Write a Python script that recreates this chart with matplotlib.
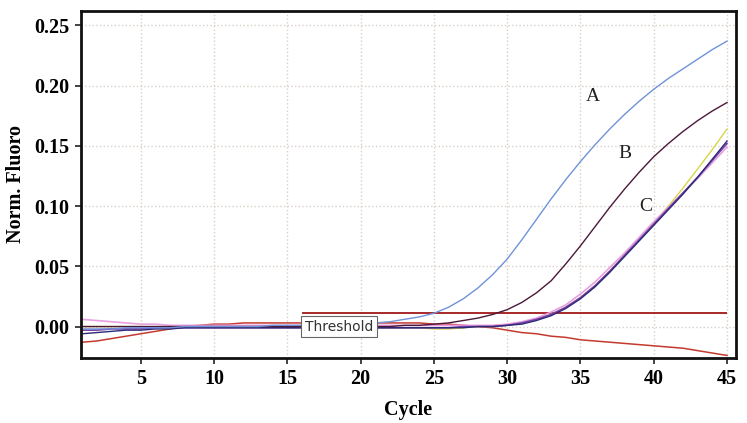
import numpy as np
import matplotlib.pyplot as plt

cycles = np.arange(1, 46)

# sample A (blue)
curve_a = [-0.002, -0.002, -0.002, -0.001, -0.001, -0.001, -0.001, 0.000, 0.000, 0.000,
           0.000, 0.000, 0.000, 0.001, 0.001, 0.001, 0.001, 0.001, 0.002, 0.002,
           0.003, 0.004, 0.006, 0.008, 0.011, 0.016, 0.023, 0.032, 0.043, 0.056,
           0.072, 0.089, 0.106, 0.122, 0.137, 0.151, 0.164, 0.176, 0.187, 0.197,
           0.206, 0.214, 0.222, 0.230, 0.237]
# sample B (dark maroon)
curve_b = [0.000, 0.000, 0.000, 0.000, 0.000, 0.000, 0.000, 0.000, 0.000, 0.000,
           0.000, 0.000, 0.000, 0.000, 0.000, 0.000, 0.000, 0.000, 0.000, 0.000,
           0.000, 0.000, 0.001, 0.001, 0.002, 0.003, 0.005, 0.007, 0.010, 0.014,
           0.020, 0.028, 0.038, 0.052, 0.067, 0.083, 0.099, 0.114, 0.128, 0.141,
           0.152, 0.162, 0.171, 0.179, 0.186]
# sample C replicates
curve_c1 = [-0.003, -0.003, -0.002, -0.002, -0.002, -0.001, -0.001, -0.001, -0.001, -0.001,
            -0.001, -0.001, -0.001, -0.001, -0.001, -0.001, -0.001, -0.001, -0.001, -0.001,
            -0.001, -0.001, -0.001, -0.001, -0.001, -0.001, 0.000, 0.000, 0.000, 0.001,
            0.003, 0.006, 0.010, 0.016, 0.024, 0.034, 0.046, 0.059, 0.072, 0.085,
            0.098, 0.111, 0.124, 0.138, 0.152]
curve_c2 = [-0.006, -0.005, -0.004, -0.003, -0.003, -0.002, -0.002, -0.001, -0.001, -0.001,
            -0.001, -0.001, -0.001, -0.001, -0.001, -0.001, -0.001, -0.001, -0.001, -0.001,
            -0.001, -0.001, -0.001, -0.001, -0.001, -0.001, -0.001, 0.000, 0.000, 0.001,
            0.002, 0.005, 0.009, 0.015, 0.023, 0.033, 0.045, 0.058, 0.071, 0.084,
            0.097, 0.110, 0.124, 0.139, 0.154]
curve_c_pink = [0.006, 0.005, 0.004, 0.003, 0.002, 0.002, 0.001, 0.001, 0.001, 0.001,
                0.001, 0.001, 0.001, 0.001, 0.001, 0.001, 0.001, 0.001, 0.001, 0.001,
                0.001, 0.001, 0.001, 0.001, 0.001, 0.001, 0.001, 0.001, 0.001, 0.002,
                0.004, 0.007, 0.012, 0.018, 0.027, 0.037, 0.049, 0.061, 0.074, 0.087,
                0.099, 0.111, 0.123, 0.136, 0.149]
curve_c_yellow = [0.000, 0.000, 0.000, 0.000, 0.000, 0.000, 0.000, 0.000, 0.000, 0.000,
                  0.000, 0.000, 0.000, 0.000, 0.000, 0.000, 0.000, 0.000, 0.000, 0.000,
                  -0.001, -0.001, -0.001, -0.001, -0.002, -0.002, -0.001, 0.000, 0.000, 0.001,
                  0.003, 0.006, 0.010, 0.016, 0.024, 0.034, 0.046, 0.059, 0.072, 0.086,
                  0.100, 0.115, 0.131, 0.147, 0.164]
# negative control drifting down
curve_neg = [-0.013, -0.012, -0.010, -0.008, -0.006, -0.004, -0.002, 0.000, 0.001, 0.002,
             0.002, 0.003, 0.003, 0.003, 0.003, 0.003, 0.003, 0.003, 0.003, 0.003,
             0.003, 0.003, 0.003, 0.003, 0.002, 0.002, 0.001, 0.000, -0.001, -0.003,
             -0.005, -0.006, -0.008, -0.009, -0.011, -0.012, -0.013, -0.014, -0.015, -0.016,
             -0.017, -0.018, -0.020, -0.022, -0.024]

threshold = 0.011
labels = ['A', 'B', 'C']
label_pos = [(35.4, 0.187), (37.6, 0.140), (39.0, 0.096)]

fig = plt.figure(figsize=(7.47, 4.23), dpi=100)
ax = fig.add_axes([0.108, 0.154, 0.877, 0.820])

ax.plot(cycles, curve_neg, color='#c43a2e', lw=1.1)
ax.hlines(threshold, 16, 45, color='#a01818', lw=1.3)
ax.plot(cycles, curve_c_yellow, color='#d6d64a', lw=1.0)
ax.plot(cycles, curve_c_pink, color='#e8a0e0', lw=1.2)
ax.plot(cycles, curve_c1, color='#7a3fa8', lw=1.2)
ax.plot(cycles, curve_c2, color='#2a2a78', lw=1.0)
ax.plot(cycles, curve_b, color='#4a1838', lw=1.0)
ax.plot(cycles, curve_a, color='#6f93d8', lw=1.0)

for lab, (x, y) in zip(labels, label_pos):
    ax.text(x, y, lab, fontsize=14, family='Liberation Serif', color='#222222')

ax.text(16.2, 0.000, 'Threshold', fontsize=10, family='DejaVu Sans', color='#333333',
        va='center', ha='left',
        bbox=dict(boxstyle='square,pad=0.28', fc='white', ec='#666666', lw=0.8))

ax.set_xlim(0.9, 45.6)
ax.set_ylim(-0.026, 0.262)
ax.set_xticks([5, 10, 15, 20, 25, 30, 35, 40, 45])
ax.set_yticks([0.0, 0.05, 0.10, 0.15, 0.20, 0.25])
ax.set_yticklabels(['0.00', '0.05', '0.10', '0.15', '0.20', '0.25'])
ax.grid(True, linestyle=':', color='#d9cfc8', lw=1.0)
ax.set_axisbelow(True)

for lbl in ax.get_xticklabels() + ax.get_yticklabels():
    lbl.set_family('Liberation Serif')
    lbl.set_fontweight('bold')
    lbl.set_fontsize(14.5)
ax.tick_params(length=4, width=1.2, color='#222222', pad=4)

for s in ax.spines.values():
    s.set_linewidth(2.0)
    s.set_color('#111111')

ax.set_xlabel('Cycle', family='Liberation Serif', fontweight='bold', fontsize=14.5, labelpad=8)
ax.set_ylabel('Norm. Fluoro', family='Liberation Serif', fontweight='bold', fontsize=14.5, labelpad=6)

fig.savefig('out.png', dpi=100)
